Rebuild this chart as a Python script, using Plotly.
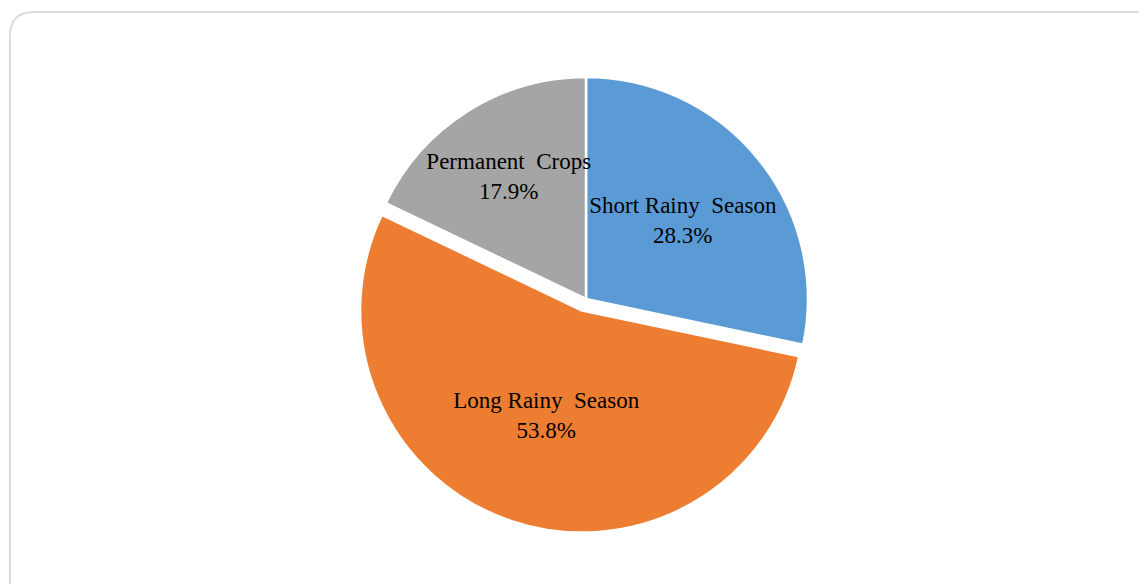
import plotly.graph_objects as go

labels = ["Short Rainy  Season", "Long Rainy  Season", "Permanent  Crops"]
values = [28.3, 53.8, 17.9]
colors = ["#5B9BD5", "#ED7D31", "#A5A5A5"]
pulls = [0, 0.055, 0]

W, H = 1147, 584
OFF = 8  # page body margin offset

def px(x):
    return (x - OFF) / W

def py(y):
    return (H - (y - OFF)) / H

# rounded border path (screen pixel -> paper)
x0, y0, x1, y1, r = 10, 12, 1170, 620, 24
path = (
    f"M {px(x0)},{py(y1)} L {px(x0)},{py(y0 + r)} "
    f"Q {px(x0)},{py(y0)} {px(x0 + r)},{py(y0)} "
    f"L {px(x1 - r)},{py(y0)} Q {px(x1)},{py(y0)} {px(x1)},{py(y0 + r)} "
    f"L {px(x1)},{py(y1)}"
)

# pie centre (screen) and radius
cx, cy, rad = 586, 299, 222
half = rad * (1 + max(pulls))
dom_y = [py(cy + half), py(cy - half)]
dom_x = [px(cx) - 0.3, px(cx) + 0.3]

fig = go.Figure(
    go.Pie(
        labels=labels,
        values=values,
        marker=dict(colors=colors, line=dict(color="white", width=2.5)),
        pull=pulls,
        sort=False,
        direction="clockwise",
        rotation=0,
        texttemplate="%{label}<br>%{value:.1f}%",
        textposition="inside",
        insidetextorientation="horizontal",
        textfont=dict(family="Liberation Serif", size=23, color="black"),
        showlegend=False,
        hoverinfo="label+percent",
        domain=dict(x=dom_x, y=dom_y),
    )
)

fig.update_layout(
    width=W,
    height=H,
    margin=dict(l=0, r=0, t=0, b=0),
    paper_bgcolor="white",
    plot_bgcolor="white",
    uniformtext=dict(minsize=23, mode="show"),
    shapes=[
        dict(
            type="path",
            xref="paper",
            yref="paper",
            path=path,
            line=dict(color="#dcdcdc", width=2),
            layer="below",
        )
    ],
)

fig.write_html("out.html")
